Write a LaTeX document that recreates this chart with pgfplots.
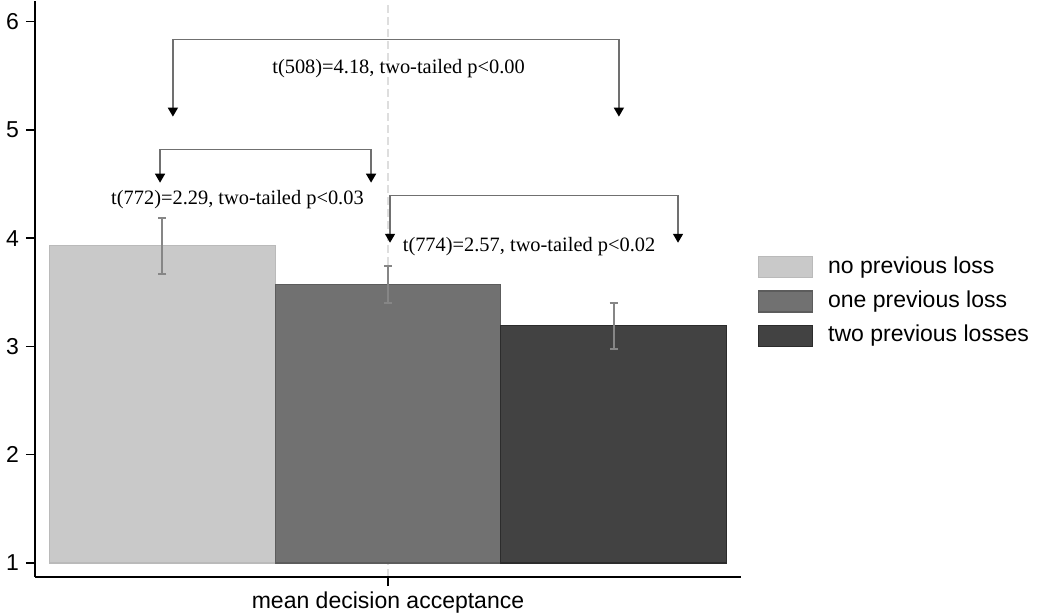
\documentclass[border=0pt]{standalone}
\usepackage{fontspec}
\setmainfont{Liberation Serif}
\setsansfont{Liberation Sans}
\usepackage{pgfplots}
\pgfplotsset{compat=1.18}
\usetikzlibrary{arrows.meta}
\definecolor{barA}{HTML}{C9C9C9}
\definecolor{barAe}{HTML}{BABABA}
\definecolor{barB}{HTML}{717171}
\definecolor{barBe}{HTML}{5C5C5C}
\definecolor{barC}{HTML}{424242}
\definecolor{barCe}{HTML}{2C2C2C}
\definecolor{errc}{HTML}{868686}
\definecolor{brk}{HTML}{707070}
\begin{document}
\begin{tikzpicture}
\useasboundingbox (0,0) rectangle (519pt,307.5pt);
\begin{axis}[
  at={(17.5pt,19pt)}, anchor=south west,
  scale only axis, width=353pt, height=288pt,
  xmin=-1.564, xmax=1.564, ymin=0.87, ymax=6.19,
  axis x line*=bottom, axis y line*=left,
  axis line style={line width=0.7pt, black},
  xtick={0}, xticklabels={mean decision acceptance},
  ytick={1,2,3,4,5,6},
  tick align=outside, major tick length=4.5pt,
  tick style={line width=0.7pt, black},
  xmajorgrids, grid style={dash pattern=on 4pt off 2pt, color=black!13, line width=0.6pt},
  ticklabel style={font=\sffamily\fontsize{11.5}{13}\selectfont},
  xticklabel style={inner sep=2.5pt},
  /pgf/number format/assume math mode=true,
  clip=false,
  legend cell align=left,
  legend style={at={(1.024,0.557)}, anchor=north west, draw=none, fill=none,
    inner sep=0pt, outer sep=0pt, row sep=6pt, column sep=7.5pt,
    font=\sffamily\fontsize{11.5}{13}\selectfont,
    nodes={inner sep=0pt, text height=8.3pt, text depth=2.2pt}},
  legend image code/.code={\draw[#1] (0pt,-5.25pt) rectangle (27pt,5.25pt);},
]
\addplot[fill=barA, draw=barAe, line width=0.6pt] coordinates {(-1.5,1) (-1.5,3.93) (-0.5,3.93) (-0.5,1)} -- cycle;
\addlegendentry{no previous loss}
\addplot[fill=barB, draw=barBe, line width=0.6pt] coordinates {(-0.5,1) (-0.5,3.57) (0.5,3.57) (0.5,1)} -- cycle;
\addlegendentry{one previous loss}
\addplot[fill=barC, draw=barCe, line width=0.6pt] coordinates {(0.5,1) (0.5,3.19) (1.5,3.19) (1.5,1)} -- cycle;
\addlegendentry{two previous losses}
\addplot[forget plot, draw=none, mark=none,
  error bars/.cd, y dir=both, y explicit,
  error bar style={errc, line width=1pt},
  error mark options={errc, line width=1pt, mark size=2pt, rotate=90}]
  coordinates {(-1,3.93) +- (0,0.26) (0,3.57) +- (0,0.17) (1,3.19) +- (0,0.21)};
% annotations
\draw[brk, line width=0.75pt, {Triangle[width=5pt,length=4.5pt,black]}-{Triangle[width=5pt,length=4.5pt,black]}]
  (axis cs:-0.953,5.122) -- (axis cs:-0.953,5.834) -- (axis cs:1.023,5.834) -- (axis cs:1.023,5.122);
\node[font=\fontsize{10.2}{12}\selectfont] at (axis cs:0.047,5.566) {t(508)=4.18, two-tailed p<0.00};
\draw[brk, line width=0.75pt, {Triangle[width=5pt,length=4.5pt,black]}-{Triangle[width=5pt,length=4.5pt,black]}]
  (axis cs:-1.010,4.512) -- (axis cs:-1.010,4.817) -- (axis cs:-0.075,4.817) -- (axis cs:-0.075,4.512);
\node[font=\fontsize{10.2}{12}\selectfont] at (axis cs:-0.667,4.355) {t(772)=2.29, two-tailed p<0.03};
\draw[brk, line width=0.75pt, {Triangle[width=5pt,length=4.5pt,black]}-{Triangle[width=5pt,length=4.5pt,black]}]
  (axis cs:0.009,3.957) -- (axis cs:0.009,4.395) -- (axis cs:1.285,4.395) -- (axis cs:1.285,3.957);
\node[font=\fontsize{10.2}{12}\selectfont] at (axis cs:0.625,3.92) {t(774)=2.57, two-tailed p<0.02};
\end{axis}
\end{tikzpicture}
\end{document}
